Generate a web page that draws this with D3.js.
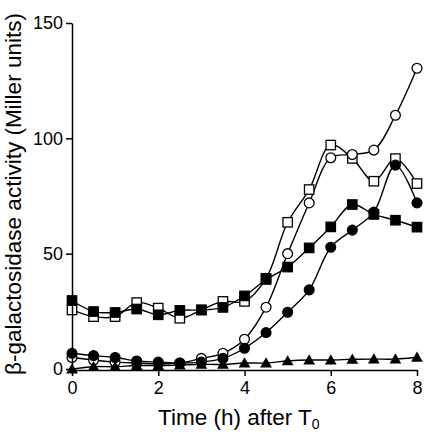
<!DOCTYPE html>
<html><head><meta charset="utf-8">
<script src="https://cdn.jsdelivr.net/npm/d3@7"></script>
<style>body{margin:0;background:#fff}svg{display:block}text{font-family:"Liberation Sans",Arial,sans-serif}</style>
</head><body>
<script>
const times = [0,0.5,1,1.5,2,2.5,3,3.5,4,4.5,5,5.5,6,6.5,7,7.5,8];
const openSquares   = [25.6,22.7,22.7,28.8,26.4,22.0,25.6,29.3,29.3,39.3,63.6,77.8,97.1,91.3,81.4,91.2,80.4];
const openCircles   = [5.0,3.9,3.0,2.6,2.3,2.6,4.6,6.8,12.9,26.8,50.0,72.0,91.6,93.0,94.9,110.0,130.4];
const filledSquares = [29.7,24.9,24.5,26.0,23.5,25.4,25.6,26.7,31.7,38.8,44.2,52.5,61.6,71.3,67.0,64.5,61.5];
const filledCircles = [6.8,5.8,5.0,3.5,3.0,2.6,3.0,4.6,9.0,15.8,24.6,34.3,52.8,60.2,68.0,88.4,72.0];
const triangles     = [0,1.0,1.0,1.5,1.5,1.7,2.0,2.0,2.6,2.6,3.5,3.9,3.9,4.2,4.3,4.3,5.1];
const xTicks = [0,2,4,6,8];
const yTicks = [0,50,100,150];

const W=425,H=433;
const svg=d3.select("body").append("svg").attr("width",W).attr("height",H);
const x=d3.scaleLinear().domain([0,8]).range([72,417]);
const y=d3.scaleLinear().domain([0,150]).range([369,23]);

const series=[
 {v:openSquares,shape:"square",fill:"#fff"},
 {v:openCircles,shape:"circle",fill:"#fff"},
 {v:filledSquares,shape:"square",fill:"#000"},
 {v:filledCircles,shape:"circle",fill:"#000"},
 {v:triangles,shape:"triangle",fill:"#000"}
];
const line=d3.line().x((d,i)=>x(times[i])).y(d=>y(d)).curve(d3.curveCatmullRom.alpha(0.5));
series.forEach(s=>{
  svg.append("path").attr("d",line(s.v)).attr("fill","none").attr("stroke","#000").attr("stroke-width",1.4);
});
series.forEach(s=>{
  const g=svg.append("g");
  s.v.forEach((d,i)=>{
    const cx=x(times[i]),cy=y(d);
    if(s.shape==="circle") g.append("circle").attr("cx",cx).attr("cy",cy).attr("r",4.9).attr("fill",s.fill).attr("stroke","#000").attr("stroke-width",1.3);
    else if(s.shape==="square") g.append("rect").attr("x",cx-4.7).attr("y",cy-4.7).attr("width",9.4).attr("height",9.4).attr("fill",s.fill).attr("stroke","#000").attr("stroke-width",1.3);
    else g.append("path").attr("d",d3.symbol(d3.symbolTriangle,60)()).attr("transform",`translate(${cx},${cy+1})`).attr("fill","#000");
  });
});

const xa=svg.append("g").attr("transform","translate(0,370)").call(d3.axisBottom(x).tickValues(xTicks).tickSize(6).tickSizeOuter(0).tickPadding(5));
const ya=svg.append("g").attr("transform","translate(72,0)").call(d3.axisLeft(y).tickValues(yTicks).tickSize(6).tickSizeOuter(0).tickPadding(3));
[xa,ya].forEach(a=>{a.select(".domain").attr("stroke-width",1.5);a.selectAll(".tick line").attr("stroke-width",1.5);a.selectAll("text").attr("font-size",18).attr("font-family","Liberation Sans, Arial, sans-serif").attr("fill","#000");});

const xl=svg.append("text").attr("x",158).attr("y",425).attr("text-anchor","start").attr("font-size",22.5);
xl.append("tspan").text("Time (h) after T");
xl.append("tspan").attr("font-size",14).attr("dy",3.5).text("0");
svg.append("text").attr("transform","translate(21,194) rotate(-90)").attr("text-anchor","middle").attr("font-size",22.5).text("β-galactosidase activity (Miller units)");
</script>
</body></html>
